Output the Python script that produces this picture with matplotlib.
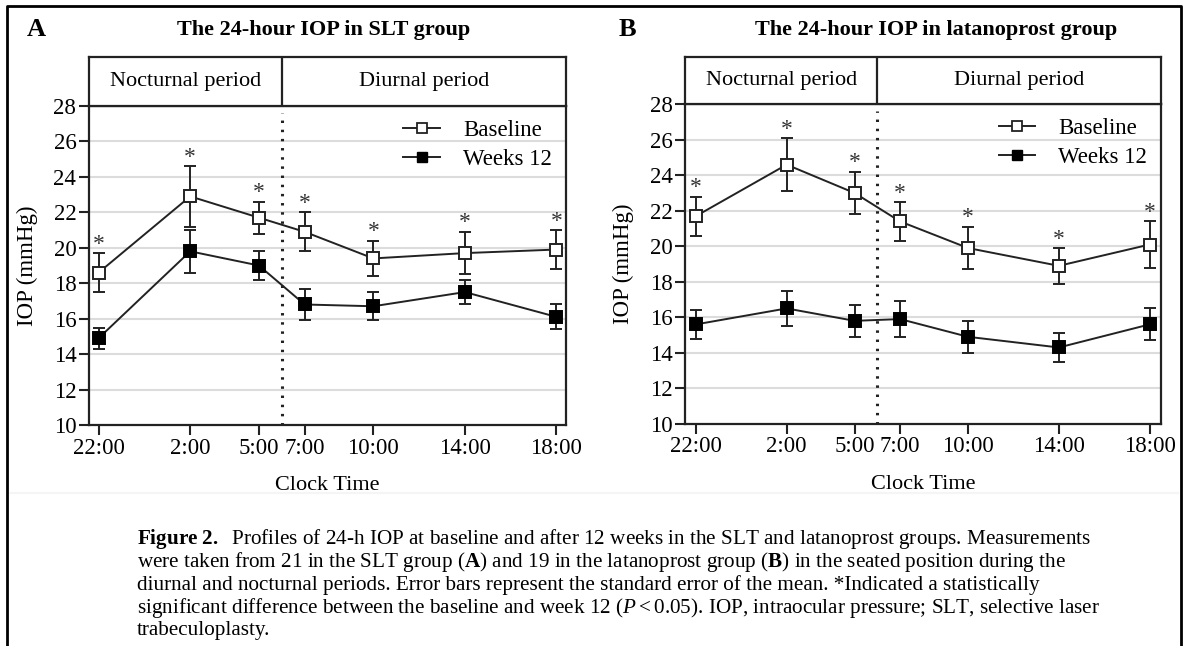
import matplotlib
matplotlib.use("Agg")
import matplotlib.pyplot as plt
from matplotlib.lines import Line2D
import numpy as np

plt.rcParams['font.family'] = ['Liberation Serif', 'DejaVu Serif']
plt.rcParams['mathtext.fontset'] = 'custom'
plt.rcParams['mathtext.rm'] = 'Liberation Serif'
plt.rcParams['mathtext.bf'] = 'Liberation Serif:bold'
plt.rcParams['mathtext.it'] = 'Liberation Serif:italic'

# clock times, as hours after 22:00
hours = [0, 4, 7, 9, 12, 16, 20]
tick_labels = ["22:00", "2:00", "5:00", "7:00", "10:00", "14:00", "18:00"]
split_hour = 8  # 6:00, night / day border

# panel A, SLT group
slt_base = [18.6, 22.9, 21.7, 20.9, 19.4, 19.7, 19.9]
slt_base_se = [1.1, 1.7, 0.9, 1.1, 1.0, 1.2, 1.1]
slt_w12 = [14.9, 19.8, 19.0, 16.8, 16.7, 17.5, 16.1]
slt_w12_se = [0.6, 1.2, 0.8, 0.9, 0.8, 0.7, 0.7]

# panel B, latanoprost group
lat_base = [21.7, 24.6, 23.0, 21.4, 19.9, 18.9, 20.1]
lat_base_se = [1.1, 1.5, 1.2, 1.1, 1.2, 1.0, 1.3]
lat_w12 = [15.6, 16.5, 15.8, 15.9, 14.9, 14.3, 15.6]
lat_w12_se = [0.8, 1.0, 0.9, 1.0, 0.9, 0.8, 0.9]

W, H = 1183, 646
fig = plt.figure(figsize=(W / 100, H / 100), dpi=100)

ink = "#222222"


def px(x0, y0, x1, y1):
    # pixel box -> figure fraction rect
    return [x0 / W, 1 - y1 / H, (x1 - x0) / W, (y1 - y0) / H]


def draw_panel(box, head_top, xlim, base, base_se, w12, w12_se, letter, title, letter_x, title_x):
    ax = fig.add_axes(px(*box))
    ax.set_xlim(*xlim)
    ax.set_ylim(10, 28)
    ax.set_yticks(np.arange(10, 29, 2))
    ax.set_xticks(hours)
    ax.set_xticklabels(tick_labels)
    for y in range(12, 28, 2):
        ax.axhline(y, color="#dcdcdc", lw=1.5, zorder=0)
    ax.tick_params(direction="out", length=7, width=1.5, color=ink, labelsize=16.5, pad=2)
    for s in ax.spines.values():
        s.set_color(ink)
        s.set_linewidth(1.6)

    ax.errorbar(hours, base, yerr=base_se, color=ink, lw=1.4, elinewidth=1.4, capsize=4,
                capthick=1.4, marker="s", ms=8.5, mfc="white", mec=ink, mew=1.4, zorder=3)
    ax.errorbar(hours, w12, yerr=w12_se, color=ink, lw=1.4, elinewidth=1.4, capsize=4,
                capthick=1.4, marker="s", ms=8.5, mfc="black", mec="black", mew=1.4, zorder=3)
    for h, b, e in zip(hours, base, base_se):
        ax.text(h, b + e + 0.5, "*", ha="center", va="center", fontsize=17, color="#333333")

    ax.plot([split_hour, split_hour], [10, 27.6], color=ink, lw=2.2, ls=(0, (0.8, 2.2)))

    handles = [Line2D([], [], color=ink, lw=1.4, marker="s", ms=7, mfc="white", mec=ink, mew=1.3),
               Line2D([], [], color=ink, lw=1.4, marker="s", ms=7, mfc="black", mec="black")]
    ax.legend(handles, ["Baseline", "Weeks 12"], loc="upper right", frameon=False, fontsize=16.5,
              handlelength=1.6, handletextpad=1.0, borderaxespad=0.2, labelspacing=0.35)

    ax.set_ylabel("IOP (mmHg)", fontsize=16.5)
    ax.yaxis.set_label_coords(-0.107, 0.5)
    ax.text(0.5, -0.19, "Clock Time", transform=ax.transAxes, ha="center", va="center", fontsize=16)

    # period header strip
    hx0, hy0, hx1, hy1 = box
    hd = fig.add_axes(px(hx0, head_top, hx1, hy0))
    hd.set_xlim(*xlim)
    hd.set_ylim(0, 1)
    hd.set_xticks([])
    hd.set_yticks([])
    for s in hd.spines.values():
        s.set_color(ink)
        s.set_linewidth(1.6)
    hd.axvline(split_hour, color=ink, lw=1.6)
    hd.text((xlim[0] + split_hour) / 2, 0.5, "Nocturnal period", ha="center", va="center", fontsize=16)
    hd.text((split_hour + xlim[1]) / 2, 0.5, "Diurnal period", ha="center", va="center", fontsize=16)

    fig.text(letter_x / W, 1 - 30 / H, letter, ha="center", va="center", fontsize=19, fontweight="bold")
    fig.text(title_x / W, 1 - 30 / H, title, ha="center", va="center", fontsize=16, fontweight="bold")
    return ax


draw_panel((88.8, 106, 565.6, 425), 57, (-0.43, 20.4), slt_base, slt_base_se, slt_w12, slt_w12_se,
           "A", "The 24-hour IOP in SLT group", 36, 324)
draw_panel((685, 104.3, 1161, 423.8), 57, (-0.48, 20.5), lat_base, lat_base_se, lat_w12, lat_w12_se,
           "B", "The 24-hour IOP in latanoprost group", 627, 936)

# faint separator, then outer frame on top
fig.add_artist(Line2D([10 / W, 1178 / W], [1 - 493 / H, 1 - 493 / H],
                      transform=fig.transFigure, color="#f5f5f5", lw=1.5, zorder=1))
fig.add_artist(Line2D([7 / W, 7 / W, 1181 / W, 1181 / W], [0, 1 - 6 / H, 1 - 6 / H, 0],
                      transform=fig.transFigure, color="black", lw=2, zorder=5))

caption = [
    r"$\mathbf{Figure\ 2.}$  Profiles of 24-h IOP at baseline and after 12 weeks in the SLT and latanoprost groups. Measurements",
    r"were taken from 21 in the SLT group ($\mathbf{A}$) and 19 in the latanoprost group ($\mathbf{B}$) in the seated position during the",
    r"diurnal and nocturnal periods. Error bars represent the standard error of the mean. *Indicated a statistically",
    r"significant difference between the baseline and week 12 ($\mathit{P}$$<$0.05). IOP, intraocular pressure; SLT, selective laser",
    r"trabeculoplasty.",
]
for i, line in enumerate(caption):
    fig.text(137 / W, 1 - (539 + 23 * i) / H, line, ha="left", va="center", fontsize=15.2)

fig.savefig("out.png", dpi=100)
